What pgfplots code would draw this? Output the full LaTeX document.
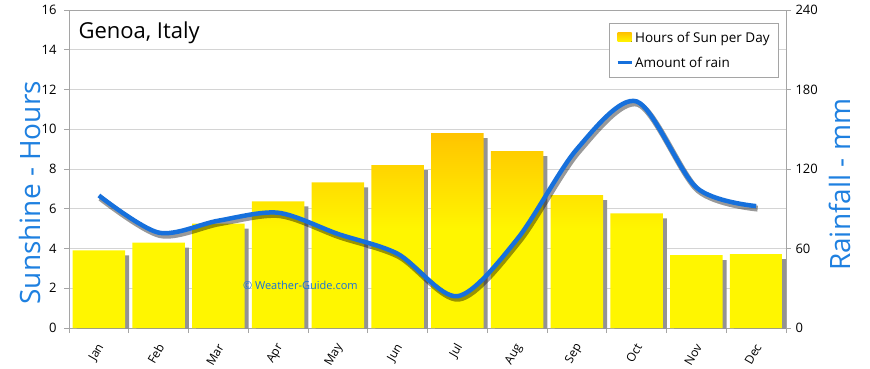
\documentclass[border=0pt]{standalone}
\usepackage{pgfplots}
\pgfplotsset{compat=1.18}
\usepackage{fontspec}
\setmainfont{Open Sans}
\definecolor{rainblue}{RGB}{22,112,220}
\definecolor{labelblue}{RGB}{30,128,224}
\definecolor{sunA}{RGB}{255,246,0}
\definecolor{sunB}{RGB}{255,196,0}
\definecolor{gridgray}{RGB}{212,212,212}
\definecolor{axisgray}{RGB}{165,165,165}
\begin{document}
\begin{tikzpicture}[x=1pt,y=1pt]
\useasboundingbox (0,0) rectangle (870,368);
\begin{axis}[
  at={(69pt,40pt)}, anchor=south west,
  scale only axis, width=717pt, height=318pt,
  xmin=-0.5, xmax=11.5, ymin=0, ymax=16,
  ytick={0,2,...,16},
  ymajorgrids, grid style={gridgray, line width=0.8pt},
  axis line style={axisgray, line width=0.8pt},
  tick style={axisgray, line width=0.8pt},
  tick align=outside, major tick length=5pt, minor tick length=5pt,
  xtick pos=bottom, ytick pos=left,
  xtick={0,1,...,11},
  xticklabels={Jan,Feb,Mar,Apr,May,Jun,Jul,Aug,Sep,Oct,Nov,Dec},
  major x tick style={draw=none},
  minor xtick={-0.5,0.5,...,11.5},
  xticklabel style={font=\fontsize{12}{14}\selectfont, xshift=4pt, yshift=-9pt, rotate=60, anchor=east},
  yticklabel style={font=\fontsize{13}{15}\selectfont, xshift=-4pt},
  /pgf/number format/assume math mode=true,
  ylabel={Sunshine - Hours},
  every axis y label/.style={at={(axis description cs:-0.0544,0.425)}, rotate=90, anchor=center,
    font=\fontsize{28}{30}\selectfont, text=labelblue},
  clip=true,
]
\addplot[ybar, bar width=0.88, fill=gray!85, draw=none, xshift=4pt, yshift=-5pt, forget plot]
  coordinates {(0,3.9) (1,4.3) (2,5.25) (3,6.37) (4,7.33) (5,8.2) (6,9.8) (7,8.9) (8,6.68) (9,5.77) (10,3.67) (11,3.72)};
\addplot[ybar, bar width=0.88, draw=none, top color=sunB, bottom color=sunA, middle color=sunA]
  coordinates {(0,3.9) (1,4.3) (2,5.25) (3,6.37) (4,7.33) (5,8.2) (6,9.8) (7,8.9) (8,6.68) (9,5.77) (10,3.67) (11,3.72)};
\node[anchor=north west, inner sep=0pt, font=\fontsize{22}{26}\selectfont] at (axis description cs:0.013,0.965) {Genoa, Italy};
\node[anchor=west, inner sep=0pt, font=\fontsize{11}{13}\selectfont, text=rainblue] at (axis cs:2.41,2.12) {© Weather-Guide.com};
\end{axis}
\begin{axis}[
  at={(69pt,40pt)}, anchor=south west,
  scale only axis, width=717pt, height=318pt,
  xmin=-0.5, xmax=11.5, ymin=0, ymax=240,
  axis x line=none, axis y line*=right,
  ytick={0,60,...,240},
  axis line style={axisgray, line width=0.8pt},
  tick style={axisgray, line width=0.8pt},
  tick align=outside, major tick length=5pt,
  yticklabel style={font=\fontsize{13}{15}\selectfont, xshift=1pt},
  /pgf/number format/assume math mode=true,
  ylabel={Rainfall - mm},
  every axis y label/.style={at={(axis description cs:1.0753,0.45)}, rotate=90, anchor=center,
    font=\fontsize{28}{30}\selectfont, text=labelblue},
  legend style={at={(axis description cs:0.990,0.96)}, anchor=north east,
    draw=axisgray, fill=white, font=\fontsize{13.5}{16}\selectfont,
    row sep=9pt, inner xsep=7pt, inner ysep=7pt, cells={anchor=west}},
  legend cell align=left,
]
\addlegendimage{area legend, draw=none, top color=sunB, bottom color=sunA,
  legend image code/.code={\fill[top color=sunB, bottom color=sunA] (0pt,-4pt) rectangle (14pt,5pt);}}
\addlegendentry{Hours of Sun per Day}
\addplot[black, opacity=0.4, line width=6pt, smooth, xshift=1.5pt, yshift=-2.5pt, forget plot]
  coordinates {(0,100) (1,72) (2,81) (3,87) (4,71) (5,56) (6,24) (7,67) (8,135) (9,171) (10,106) (11,92)};
\addplot[rainblue, line width=4.5pt, smooth,
  legend image code/.code={\draw[rainblue, line width=3pt] (0pt,0pt) -- (14pt,0pt);}]
  coordinates {(0,100) (1,72) (2,81) (3,87) (4,71) (5,56) (6,24) (7,67) (8,135) (9,171) (10,106) (11,92)};
\addlegendentry{Amount of rain}
\end{axis}
\end{tikzpicture}
\end{document}
